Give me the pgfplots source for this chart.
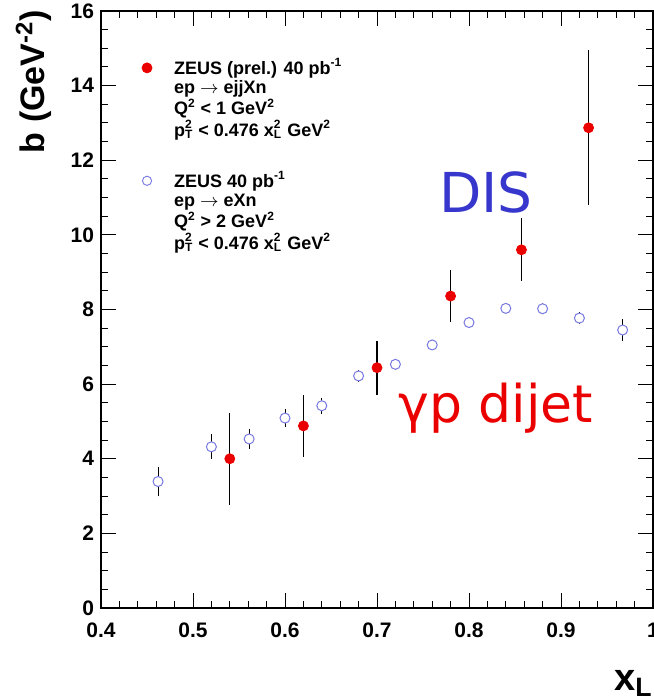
\documentclass[border=0pt]{standalone}
\usepackage{fontspec}
\setmainfont{Liberation Sans}
\newfontfamily\comic{DejaVu Sans}
\usepackage{pgfplots}
\pgfplotsset{compat=1.18}
\usepackage{pgfplotstable}
\definecolor{zred}{RGB}{235,0,0}
\definecolor{zblue}{RGB}{120,120,225}
\definecolor{disblue}{RGB}{55,55,205}
\newcommand\supsub[2]{\rlap{\textsuperscript{#1}}\textsubscript{#2}}
\pgfplotstableread{
x y e
0.54 4.00 1.23
0.62 4.88 0.83
0.70 6.44 0.72
0.78 8.36 0.70
0.857 9.60 0.84
0.93 12.87 2.08
}\dijet
\pgfplotstableread{
x y e
0.462 3.39 0.40
0.52 4.32 0.33
0.561 4.53 0.27
0.60 5.09 0.24
0.64 5.42 0.22
0.68 6.22 0.16
0.72 6.53 0.15
0.76 7.05 0.10
0.80 7.65 0.10
0.84 8.03 0.10
0.88 8.02 0.15
0.92 7.77 0.17
0.967 7.45 0.30
}\dis
\begin{document}
\begin{tikzpicture}
\begin{axis}[
  scale only axis,
  width=276pt, height=298.5pt,
  xmin=0.4, xmax=1, ymin=0, ymax=16,
  xtick={0.4,0.5,0.6,0.7,0.8,0.9,1},
  xticklabels={0.4,0.5,0.6,0.7,0.8,0.9,1},
  ytick={0,2,4,6,8,10,12,14,16},
  minor x tick num=4, minor y tick num=3,
  tick pos=both, tick align=inside,
  major tick length=7.5pt, minor tick length=3.5pt,
  every tick/.style={black, line width=0.5pt},
  axis line style={line width=0.6pt},
  /pgf/number format/assume math mode=true,
  ticklabel style={font=\fontsize{10.5}{12}\selectfont\bfseries},
  xticklabel style={yshift=-4pt},
  legend style={draw=none, fill=none, at={(axis cs:0.442,14.9)}, anchor=north west,
    font=\fontsize{9}{9.4}\selectfont\bfseries, row sep=43pt, inner sep=1pt,
    /tikz/every odd column/.append style={column sep=9pt}},
  legend cell align=left,
  clip=false,
]
\addlegendimage{only marks, mark=*, mark size=2.5pt, color=zred}
\addlegendentry{\begin{tabular}[t]{@{}l@{}}ZEUS (prel.) 40 pb\textsuperscript{-1}\\ ep $\rightarrow$ ejjXn\\ Q\textsuperscript{2} < 1 GeV\textsuperscript{2}\\ p\supsub{2}{T} < 0.476 x\supsub{2}{L} GeV\textsuperscript{2}\end{tabular}}
\addlegendimage{only marks, mark=*, mark size=2.3pt, draw=zblue, fill=white, mark options={line width=0.45pt}}
\addlegendentry{\begin{tabular}[t]{@{}l@{}}ZEUS 40 pb\textsuperscript{-1}\\ ep $\rightarrow$ eXn\\ Q\textsuperscript{2} > 2 GeV\textsuperscript{2}\\ p\supsub{2}{T} < 0.476 x\supsub{2}{L} GeV\textsuperscript{2}\end{tabular}}
\addplot[only marks, mark=*, mark size=2.5pt, draw=zblue, fill=white, mark options={line width=0.5pt},
  error bars/.cd, y dir=both, y explicit, error bar style={black, line width=0.5pt}, error mark=none]
  table[x=x, y=y, y error=e] {\dis};
\addplot[only marks, mark=*, mark size=2.5pt, color=zred,
  error bars/.cd, y dir=both, y explicit, error bar style={black, line width=0.6pt}, error mark=none]
  table[x=x, y=y, y error=e] {\dijet};
\node[font=\comic\fontsize{27.5}{30}\selectfont, text=disblue] at (axis cs:0.8185,11.13) {DIS};
\node[font=\comic\fontsize{26}{30}\selectfont, text=zred, anchor=base] at (axis cs:0.829,4.96) {γp dijet};
\node[rotate=90, anchor=base east, font=\fontsize{17}{20}\selectfont\bfseries] at ([shift={(-28pt,4pt)}]rel axis cs:0,1) {b (GeV\textsuperscript{-2})};
\node[anchor=base east, font=\fontsize{19}{20}\selectfont\bfseries, inner sep=0pt] at ([shift={(0pt,-41pt)}]rel axis cs:1,0) {x\textsubscript{L}};
\end{axis}
\pgfresetboundingbox
\useasboundingbox ([shift={(-50.5pt,-45pt)}]current axis.south west) rectangle ([shift={(0pt,5.5pt)}]current axis.north east);
\end{tikzpicture}
\end{document}
